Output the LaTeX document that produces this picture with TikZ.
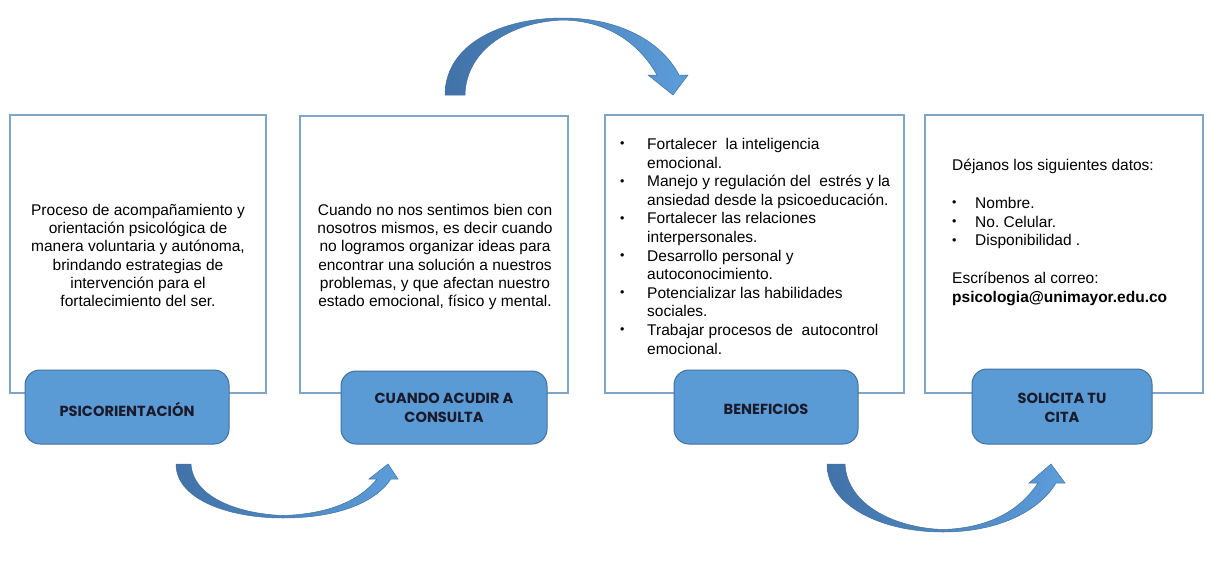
\documentclass[tikz,border=0pt]{standalone}
\usepackage{fontspec}
\setmainfont{Liberation Sans}
\newfontfamily\lblfont{Poppins}
\frenchspacing
\definecolor{frame}{HTML}{7FA5C9}
\definecolor{bluefill}{HTML}{5B9BD5}
\definecolor{blueedge}{HTML}{41719C}
\definecolor{arrdark}{HTML}{4172A8}
\definecolor{arrlight}{HTML}{5C9DDA}
\definecolor{lbltext}{HTML}{1A1A2A}
\tikzset{
  panel/.style={draw=frame, line width=1.4pt, fill=white},
  tab/.style={draw=blueedge, line width=1pt, fill=bluefill, rounded corners=15pt},
  lbl/.style={font=\lblfont\bfseries\fontsize{14.6}{19.5}\selectfont, text=lbltext, align=center, inner sep=0pt},
  body/.style={font=\fontsize{15.5}{18.3}\selectfont, align=center, inner sep=0pt},
  lst/.style={font=\fontsize{15.5}{18.6}\selectfont, align=left, inner sep=0pt, anchor=north west},
  carrow/.style={draw=blueedge, line width=0.5pt, left color=arrdark, right color=arrlight}
}
\newcommand{\bdot}{\raisebox{1.6pt}{\fontsize{12.5}{12.5}\selectfont •}}
\newcommand{\bul}{\makebox[27pt][l]{\bdot}}
\newcommand{\bulb}{\makebox[23pt][l]{\bdot}}
\newcommand{\ind}{\hspace*{27pt}}
\begin{document}
\begin{tikzpicture}[x=1pt,y=-1pt]
\useasboundingbox (0,0) rectangle (1212,570);
% panels
\draw[panel] (10,115) rectangle (266,393);
\draw[panel] (300,116) rectangle (568,393);
\draw[panel] (605,115) rectangle (904,393);
\draw[panel] (925,115) rectangle (1203,393);
% texts
\node[body] (t1) at (138,255.5) {Proceso de acompañamiento y\\orientación psicológica de\\manera voluntaria y autónoma,\\brindando estrategias de\\intervención para el\\fortalecimiento del ser.};
\node[body] (t2) at (435,257) {Cuando no nos sentimos bien con\\nosotros mismos, es decir cuando\\no logramos organizar ideas para\\encontrar una solución a nuestros\\problemas, y que afectan nuestro\\estado emocional, físico y mental.};
\node[lst] (t3) at (620,138) {\bul Fortalecer\ \ la inteligencia\\\ind emocional.\\\bul Manejo y regulación del\ \ estrés y la\\\ind ansiedad desde la psicoeducación.\\\bul Fortalecer las relaciones\\\ind interpersonales.\\\bul Desarrollo personal y\\\ind autoconocimiento.\\\bul Potencializar las habilidades\\\ind sociales.\\\bul Trabajar procesos de\ \ autocontrol\\\ind emocional.};
\node[lst, font=\fontsize{15.5}{18.8}\selectfont] (t4) at (952,159) {Déjanos los siguientes datos:\\[18.8pt]\bulb Nombre.\\\bulb No. Celular.\\\bulb Disponibilidad .\\[18.8pt]Escríbenos al correo:\\\textbf{psicologia@unimayor.edu.co}};
% tabs
\draw[tab] (25,370) rectangle (229,444);
\draw[tab] (341,371) rectangle (547,444);
\draw[tab] (674,370) rectangle (858,444);
\draw[tab] (972,369) rectangle (1152,444);
\node[lbl] (l1) at (127,409) {PSICORIENTACIÓN};
\node[lbl] (l2) at (444,408) {CUANDO ACUDIR A\\CONSULTA};
\node[lbl] (l3) at (766,409) {BENEFICIOS};
\node[lbl] (l4) at (1062,408) {SOLICITA TU\\CITA};
% top curved arrow
\path[carrow] (445,95) .. controls (445,45) and (500,18) .. (563,18)
  .. controls (620,18) and (662,42) .. (679,75) -- (688,75) -- (673,95) -- (648,75) -- (657,75)
  .. controls (640,45) and (610,21) .. (563,20)
  .. controls (510,22) and (466,50) .. (465,95) -- cycle;
% bottom arrow 1
\path[carrow] (176,464) .. controls (176,500) and (230,518) .. (283,518)
  .. controls (335,518) and (374,504) .. (391,479) -- (398,479) -- (388,464) -- (369,479) -- (377,479)
  .. controls (360,500) and (330,514) .. (283,515.5)
  .. controls (240,514) and (193,498) .. (191,464) -- cycle;
% bottom arrow 2
\path[carrow] (827,464) .. controls (827,505) and (880,532) .. (943,532)
  .. controls (1000,532) and (1040,510) .. (1056,483) -- (1065,483) -- (1051,464) -- (1029,483) -- (1038,483)
  .. controls (1020,510) and (990,528) .. (943,529.5)
  .. controls (895,528) and (847,505) .. (845,464) -- cycle;
\end{tikzpicture}
\end{document}
